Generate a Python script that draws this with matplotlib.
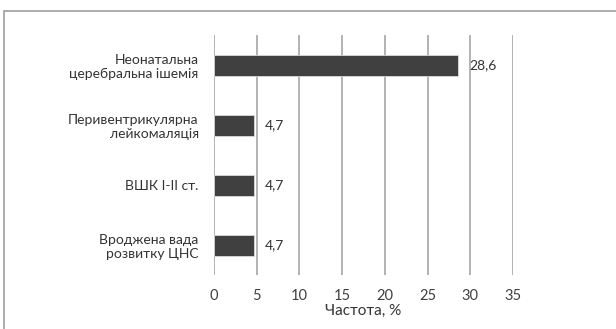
import matplotlib
matplotlib.use("Agg")
import matplotlib.pyplot as plt
from matplotlib.patches import Rectangle

categories = ['Неонатальна\nцеребральна ішемія',
              'Перивентрикулярна\nлейкомаляція',
              'ВШК І-ІІ ст.',
              'Вроджена вада\nрозвитку ЦНС']
values = [28.6, 4.7, 4.7, 4.7]
value_labels = ['28,6', '4,7', '4,7', '4,7']
x_ticks = [0, 5, 10, 15, 20, 25, 30, 35]

plt.rcParams['font.family'] = ['Lato', 'DejaVu Sans']

fig = plt.figure(figsize=(6.16, 3.29), dpi=100)
ax = fig.add_axes([214 / 616, 1 - 275 / 329, 299 / 616, 240 / 329])

# outer frame (cut off at right and bottom, like the source)
fig.patches.append(Rectangle((3.5 / 616, -0.2), 1.5, 1 - 11 / 329 + 0.2,
                             transform=fig.transFigure, fill=False,
                             edgecolor='#a6a6a6', linewidth=1.3))

y_pos = list(range(len(categories)))
ax.barh(y_pos, values, height=0.35, color='#404040', edgecolor='#d9d9d9',
        linewidth=0.6, zorder=3)

for y, v, lab in zip(y_pos, values, value_labels):
    ax.annotate(lab, (v, y), xytext=(8, 0), textcoords='offset points',
                va='center', ha='left', fontsize=10, color='#333333')

ax.set_xlim(0, 35)
ax.set_ylim(len(categories) - 0.5, -0.5)
ax.set_xticks(x_ticks)
ax.set_yticks(y_pos)
ax.set_yticklabels(categories, fontsize=10, color='#333333', linespacing=1.2)
ax.tick_params(axis='x', labelsize=10.5, labelcolor='#404040', length=0, pad=10)
ax.tick_params(axis='y', length=0, pad=11)
ax.xaxis.grid(True, color='#a6a6a6', linewidth=1.2, zorder=0)
for s in ax.spines.values():
    s.set_visible(False)
ax.set_xlabel('Частота, %', fontsize=11, color='#333333', labelpad=1)

fig.savefig('out.png', dpi=100)
